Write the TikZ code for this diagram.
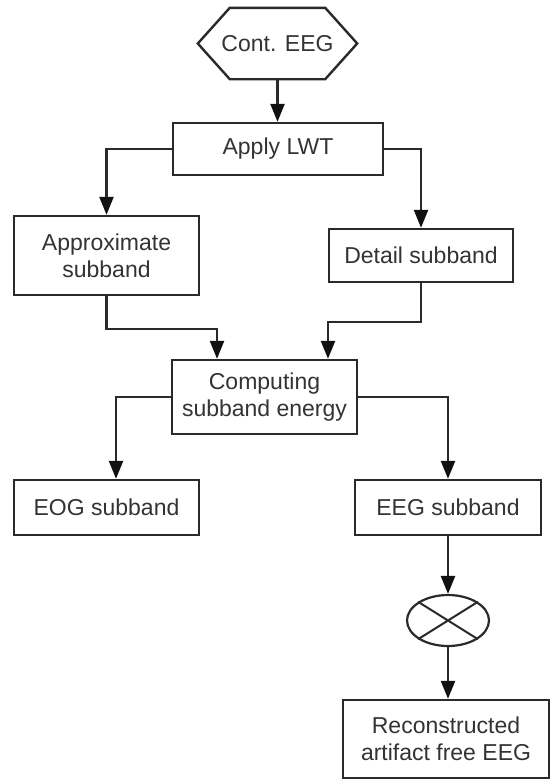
\documentclass[tikz,border=0pt]{standalone}
\usepackage{fontspec}
\setmainfont{Liberation Sans}
\usetikzlibrary{arrows.meta,shapes.geometric}
\definecolor{ink}{HTML}{2A2A2A}
\definecolor{tip}{HTML}{111111}
\definecolor{txt}{HTML}{333333}
\begin{document}
\begin{tikzpicture}[x=1pt,y=-1pt,
  box/.style={draw=ink,line width=2.4pt,rectangle,inner sep=0pt,align=center,
    text=txt,font=\fontsize{23}{27}\selectfont},
  arr/.style={draw=ink,line width=2.4pt,-{Triangle[length=18pt,width=14pt,color=tip]}},
  ]
\useasboundingbox (0,0) rectangle (550,779);
\fill[white] (0,0) rectangle (550,779);
% nodes
\node[inner sep=0pt,minimum width=159pt,minimum height=71pt,text=txt,
  font=\fontsize{23}{27}\selectfont] (hex) at (277.5,43.5) {Cont. EEG};
\draw[draw=ink,line width=2.4pt,line join=miter]
  (hex.west) -- ([xshift=32pt]hex.north west) -- ([xshift=-32pt]hex.north east)
  -- (hex.east) -- ([xshift=-32pt]hex.south east) -- ([xshift=32pt]hex.south west) -- cycle;
\node[box,minimum width=210pt,minimum height=52pt] (lwt) at (278,149) {Apply LWT};
\node[box,minimum width=185pt,minimum height=79pt] (approx) at (106.5,255.5) {Approximate\\subband};
\node[box,minimum width=184pt,minimum height=53pt] (detail) at (421,255.5) {Detail subband};
\node[box,minimum width=185pt,minimum height=74pt] (comp) at (264.5,397) {Computing\\subband energy};
\node[box,minimum width=185pt,minimum height=55pt] (eog) at (106.5,507.5) {EOG subband};
\node[box,minimum width=186pt,minimum height=55pt] (eegs) at (448,507.5) {EEG subband};
\node[draw=ink,line width=2.2pt,ellipse,inner sep=0pt,minimum width=82pt,minimum height=51pt] (mult) at (448,620.5) {};
\draw[ink,line width=2pt] (mult.32) -- (mult.212) (mult.148) -- (mult.328);
\node[box,minimum width=206pt,minimum height=78pt] (recon) at (446,739) {Reconstructed\\artifact free EEG};
% connectors
\draw[arr] (hex.south) -- (hex.south |- lwt.north);
\draw[arr] (lwt.west) -| (approx.north);
\draw[arr] (lwt.east) -| (detail.north);
\draw[arr] (approx.south) -- ++(0,33) -| ([xshift=-47.5pt]comp.north);
\draw[arr] (detail.south) -- ++(0,39) -| ([xshift=63.5pt]comp.north);
\draw[arr] (comp.west) -| ([xshift=9.5pt]eog.north);
\draw[arr] (comp.east) -| (eegs.north);
\draw[arr] (eegs.south) -- (mult.north);
\draw[arr] (mult.south) -- (mult.south |- recon.north);
\end{tikzpicture}
\end{document}
